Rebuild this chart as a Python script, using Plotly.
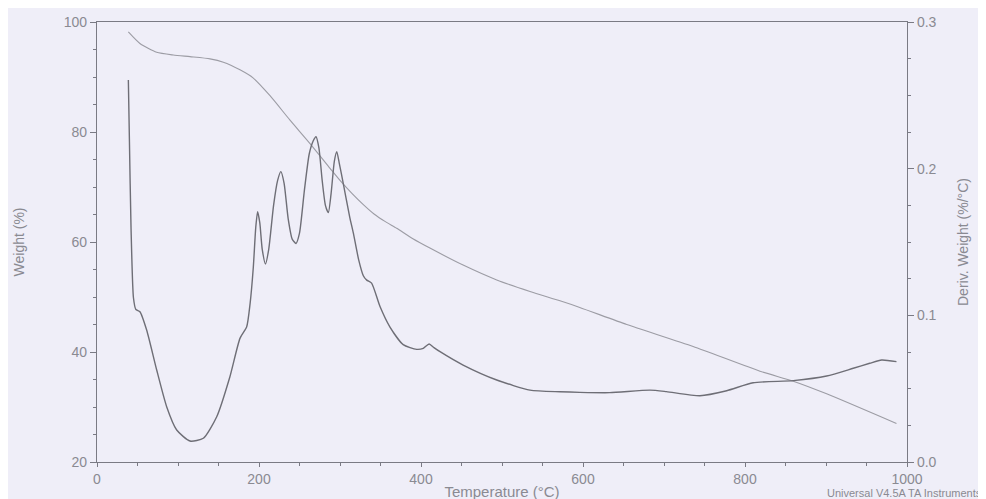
import plotly.graph_objects as go

# Weight (%) curve
weight_temp = [38.7, 53, 73.7, 94.2, 114.8, 139.5, 156, 176.5, 193, 213.6, 238, 263, 287.7, 300,
               315, 328.8, 342, 356, 370, 390, 411, 452, 493.5, 534.6, 571.6, 596, 654, 736, 818.5,
               859.6, 900.8, 987]
weight_pct = [98.2, 96.1, 94.5, 94.0, 93.7, 93.3, 92.7, 91.3, 89.8, 86.6, 82.2, 77.9, 73.4, 71.2,
              68.8, 66.8, 65.1, 63.7, 62.5, 60.6, 58.9, 55.8, 53.1, 51.0, 49.3, 48.1, 45.0, 41.0,
              36.5, 34.7, 32.4, 27.0]

# Derivative weight (%/°C) curve
deriv_temp = [38.7, 40, 42, 45, 48, 53, 61.3, 73.7, 86, 98.4, 114.8, 131.3, 147.8, 164, 176.5,
              184.8, 189, 193, 196, 198.3, 201, 204, 208, 212, 218, 223, 227, 231, 236, 241,
              245.7, 250, 256, 262, 267, 270.4, 274, 278, 282, 285.6, 289, 293, 296, 299,
              304, 312, 316.5, 323, 328.8, 333, 339, 349.4, 361.7, 378, 394.7, 402.8, 410,
              416, 423.5, 452, 493.5, 534.6, 571.6, 596, 633, 682.7, 703, 744.4, 777.4, 810,
              859.6, 900.8, 933.7, 954, 968.7, 987]
deriv_val = [0.2605, 0.22, 0.16, 0.112, 0.104, 0.1025, 0.090, 0.0627, 0.0377, 0.0218, 0.0143,
             0.0162, 0.0309, 0.058, 0.0843, 0.0922, 0.108, 0.133, 0.160, 0.1707, 0.163, 0.145,
             0.135, 0.145, 0.175, 0.192, 0.198, 0.190, 0.166, 0.152, 0.149, 0.156, 0.185,
             0.210, 0.219, 0.2218, 0.214, 0.192, 0.175, 0.170, 0.183, 0.205, 0.2116, 0.204,
             0.190, 0.167, 0.156, 0.138, 0.127, 0.124, 0.122, 0.106, 0.092, 0.080, 0.0768,
             0.0775, 0.0805, 0.078, 0.0752, 0.0661, 0.0559, 0.049, 0.0479, 0.0475, 0.0473,
             0.049, 0.048, 0.0452, 0.0486, 0.054, 0.0555, 0.0586, 0.0639, 0.0673, 0.0695,
             0.0684]

x_ticks = [0, 200, 400, 600, 800, 1000]
y_ticks = [20, 40, 60, 80, 100]
y2_ticks = [0.0, 0.1, 0.2, 0.3]
y2_labels = ["0.0", "0.1", "0.2", "0.3"]

bg = "#EFEEF8"
axis_col = "#7a7a84"
font_col = "#8a8a92"

fig = go.Figure()
fig.add_trace(go.Scatter(x=weight_temp, y=weight_pct, mode="lines", line=dict(color="#9c9ca4", width=1.1, shape="spline", smoothing=0.6), showlegend=False))
fig.add_trace(go.Scatter(x=deriv_temp, y=deriv_val, mode="lines", yaxis="y2", line=dict(color="#6e6e76", width=1.4, shape="spline", smoothing=0.6), showlegend=False))

fig.update_layout(
    width=986, height=499,
    margin=dict(l=89, r=87, t=14, b=45, autoexpand=False),
    paper_bgcolor=bg, plot_bgcolor=bg,
    font=dict(family="Liberation Sans, Arial, sans-serif", color=font_col, size=14),
    xaxis=dict(range=[0, 1000], tickvals=x_ticks, ticks="outside", ticklen=4, tickcolor=axis_col,
               showline=True, linecolor=axis_col, linewidth=1.2, mirror=True, showgrid=False, zeroline=False,
               automargin=False,
               minor=dict(dtick=50, ticks="outside", ticklen=3, tickcolor=axis_col),
               title=dict(text="Temperature (°C)", standoff=0, font=dict(size=15))),
    yaxis=dict(range=[20, 100], tickvals=y_ticks, ticks="outside", ticklen=6, tickcolor=axis_col,
               showline=True, linecolor=axis_col, linewidth=1.2, showgrid=False, zeroline=False,
               automargin=False,
               minor=dict(dtick=5, ticks="outside", ticklen=3, tickcolor=axis_col),
               title=dict(text="Weight (%)", standoff=35, font=dict(size=14))),
    yaxis2=dict(range=[0, 0.3], tickvals=y2_ticks, ticktext=y2_labels, overlaying="y", side="right",
                ticks="outside", ticklen=6, tickcolor=axis_col,
                showline=True, linecolor=axis_col, linewidth=1.2, showgrid=False, zeroline=False,
                automargin=False,
                minor=dict(dtick=0.025, ticks="outside", ticklen=3, tickcolor=axis_col),
                title=dict(text="Deriv. Weight (%/°C)", standoff=22, font=dict(size=14))),
    annotations=[dict(text="Universal V4.5A TA Instruments", xref="paper", yref="paper", x=1.0, y=0,
                      xanchor="right", yanchor="top", yshift=-23, xshift=77, showarrow=False,
                      font=dict(size=11, color=font_col))],
)

fig.write_html("out.html")
